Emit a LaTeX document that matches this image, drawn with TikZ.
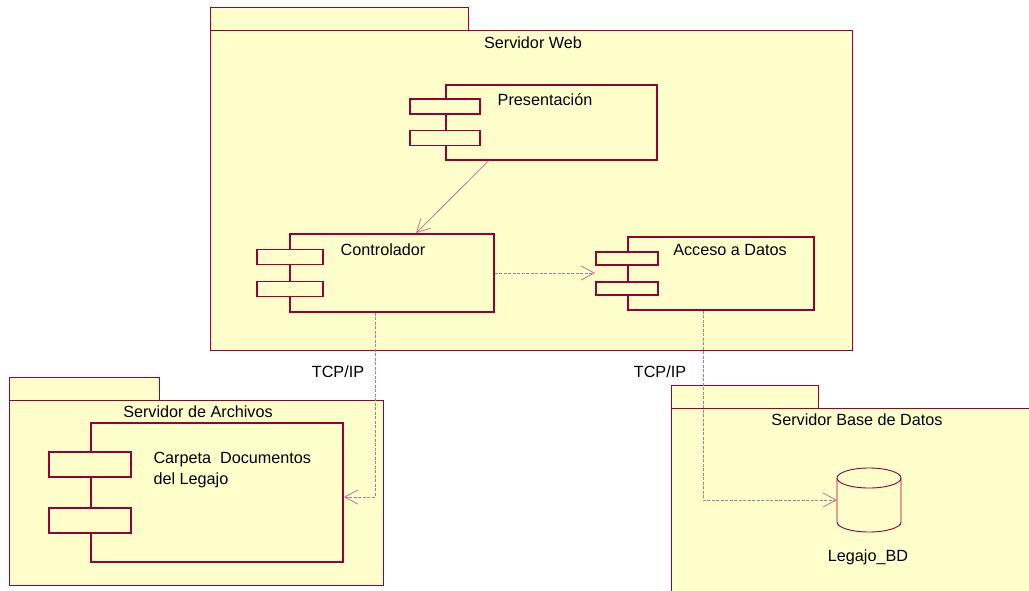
\documentclass[tikz,border=0pt]{standalone}
\usepackage{fontspec}
\setmainfont{Liberation Sans}
\usetikzlibrary{arrows.meta,positioning}
\definecolor{roseline}{RGB}{153,0,51}
\definecolor{rosefill}{RGB}{255,255,204}
\definecolor{roselink}{RGB}{205,110,140}

\begin{document}
\begin{tikzpicture}[x=1pt, y=-1pt, every node/.style={font=\fontsize{16.2}{21}\selectfont},
  pkg/.style={draw=roseline, fill=rosefill, line width=0.9pt, rectangle, inner sep=0pt},
  comp/.style={draw=roseline, fill=rosefill, line width=1.8pt, rectangle, inner sep=0pt},
  port/.style={comp},
  link/.style={draw=roselink, line width=0.8pt, -{Straight Barb[length=13pt,width=14pt]}},
  dep/.style={link, dash pattern=on 3pt off 1.5pt}]
\useasboundingbox (0,0) rectangle (1029,590);

% packages
\node[pkg, minimum width=258, minimum height=23] (webtab) at (339,18.5) {};
\node[pkg, minimum width=642, minimum height=320] (web) at (531,190) {};
\node (weblbl) at (533,43) {Servidor Web};

\node[pkg, minimum width=150, minimum height=23] (filetab) at (84,388.5) {};
\node[pkg, minimum width=374, minimum height=185] (files) at (196,492.5) {};
\node (fileslbl) at (198,412) {Servidor de Archivos};

\node[pkg, minimum width=147, minimum height=23] (dbtab) at (744.5,396.5) {};
\node[pkg, minimum width=369, minimum height=192] (db) at (855.5,504) {};
\node (dblbl) at (857,420) {Servidor Base de Datos};

% components
\node[comp, minimum width=211, minimum height=75] (pres) at (551.5,122.5) {};
\node[port, minimum width=70, minimum height=15] (presp1) at (445,106.5) {};
\node[port, minimum width=70, minimum height=15] (presp2) at (445,138) {};
\node (preslbl) at (545,100) {Presentación};

\node[comp, minimum width=204, minimum height=78] (ctrl) at (392,273) {};
\node[port, minimum width=66, minimum height=15] (ctrlp1) at (290,257) {};
\node[port, minimum width=66, minimum height=15] (ctrlp2) at (290,289) {};
\node (ctrllbl) at (383,250) {Controlador};

\node[comp, minimum width=186, minimum height=73] (acc) at (721,273.5) {};
\node[port, minimum width=62, minimum height=13] (accp1) at (627,258.5) {};
\node[port, minimum width=62, minimum height=13] (accp2) at (627,288.5) {};
\node (acclbl) at (730,250) {Acceso a Datos};

\node[comp, minimum width=252, minimum height=139] (carp) at (217,492.5) {};
\node[port, minimum width=82, minimum height=25] (carpp1) at (90,464.5) {};
\node[port, minimum width=82, minimum height=25] (carpp2) at (90,520.5) {};
\node[anchor=west, align=left] (carplbl) at (150,470) {Carpeta\ \ Documentos\\del Legajo};

% database
\node[minimum width=64, minimum height=64, inner sep=0pt] (legajo) at (869,500) {};
\draw[draw=roseline, fill=rosefill, line width=0.9pt]
  (837,478) -- (837,522) arc[start angle=180, end angle=0, x radius=32, y radius=10] -- (901,478);
\draw[draw=roseline, fill=rosefill, line width=0.9pt] (869,478) ellipse[x radius=32, y radius=10];
\node (legajolbl) at (868,557) {Legajo\_BD};

% connectors
\draw[link] ([xshift=-63pt]pres.south) -- ([xshift=24pt]ctrl.north);
\draw[dep] (ctrl.east) -- (ctrl.east -| accp1.west);
\draw[dep] ([xshift=-17pt]ctrl.south) |- ([yshift=-4.5pt]carp.east);
\draw[dep] ([xshift=-18pt]acc.south) |- (legajo.west);
\node (tcp1) at (338,372) {TCP/IP};
\node (tcp2) at (660,372) {TCP/IP};
\end{tikzpicture}
\end{document}
